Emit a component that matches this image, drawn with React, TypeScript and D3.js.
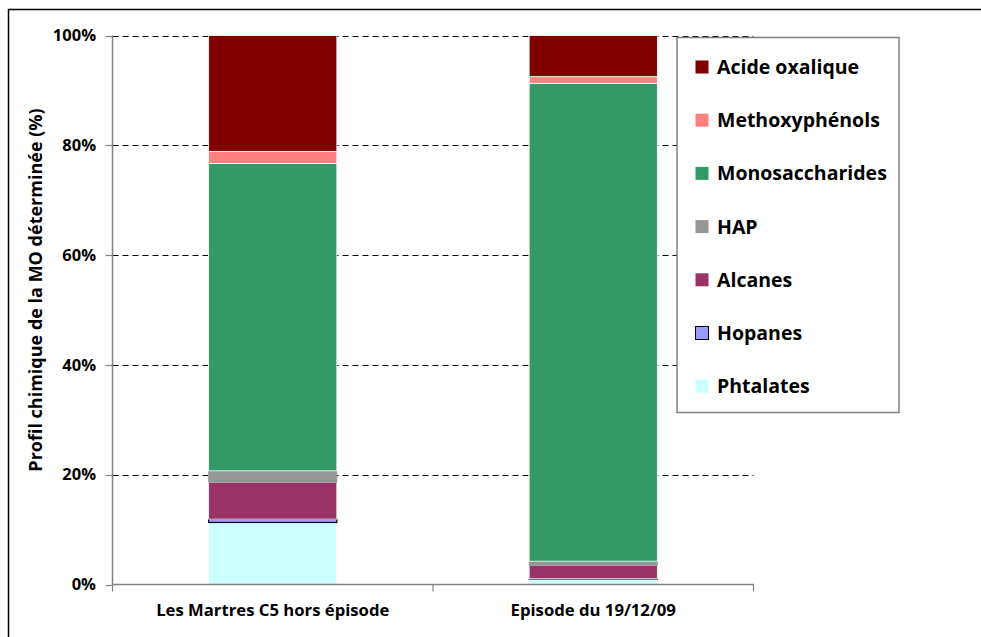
import React, { useEffect, useRef } from "react";
import * as d3 from "d3";

const categories = ["Les Martres C5 hors épisode", "Episode du 19/12/09"];
const seriesNames = ["Phtalates", "Hopanes", "Alcanes", "HAP", "Monosaccharides", "Methoxyphénols", "Acide oxalique"];
const phtalates = [11.3, 1.0];
const hopanes = [0.6, 0.05];
const alcanes = [6.7, 2.4];
const hap = [2.1, 0.8];
const monosaccharides = [56.0, 87.05];
const methoxyphenols = [2.2, 1.2];
const acideOxalique = [21.1, 7.5];
const seriesColors = ["#CCFFFF", "#9999FF", "#993366", "#969696", "#339966", "#FF8080", "#800000"];
const seriesStrokes = ["#ffffff", "#000000", "#ffffff", "#969696", "#ffffff", "#ffffff", "#ffffff"];
const yTicks = [0, 0.2, 0.4, 0.6, 0.8, 1.0];
const legendOrder = ["Acide oxalique", "Methoxyphénols", "Monosaccharides", "HAP", "Alcanes", "Hopanes", "Phtalates"];

const W = 981, H = 637;
const FONT = "'Open Sans', sans-serif";

export default function App() {
  const ref = useRef<SVGSVGElement>(null);
  useEffect(() => {
    const svg = d3.select(ref.current);
    svg.selectAll("*").remove();
    const x0 = 112.5, x1 = 753.5, y0 = 584.5, y1 = 35.5;

    const table = categories.map((c, i) => ({
      cat: c,
      Phtalates: phtalates[i],
      Hopanes: hopanes[i],
      Alcanes: alcanes[i],
      HAP: hap[i],
      Monosaccharides: monosaccharides[i],
      "Methoxyphénols": methoxyphenols[i],
      "Acide oxalique": acideOxalique[i],
    }));
    const stacked = d3.stack<any>().keys(seriesNames).offset(d3.stackOffsetExpand)(table);

    const x = d3.scaleBand().domain(categories).range([x0, x1]).paddingInner(0.6).paddingOuter(0.3);
    const y = d3.scaleLinear().domain([0, 1]).range([y0, y1]);

    // outer frame
    svg.append("rect").attr("x", 8.5).attr("y", 9.5).attr("width", 1000).attr("height", 700)
      .attr("fill", "#fff").attr("stroke", "#000").attr("stroke-width", 1.5);

    // gridlines
    svg.append("g").selectAll("line").data(yTicks.filter(t => t > 0)).join("line")
      .attr("x1", x0).attr("x2", x1)
      .attr("y1", d => Math.round(y(d)) + 0.5).attr("y2", d => Math.round(y(d)) + 0.5)
      .attr("stroke", "#000").attr("stroke-width", 1).attr("stroke-dasharray", "6,4");

    // bars
    const g = svg.append("g");
    stacked.forEach((s, si) => {
      g.append("g").selectAll("rect").data(s).join("rect")
        .attr("x", (d: any) => x(d.data.cat)!)
        .attr("width", x.bandwidth())
        .attr("y", (d: any) => y(d[1]))
        .attr("height", (d: any) => Math.max(0, y(d[0]) - y(d[1])))
        .attr("fill", seriesColors[si])
        .attr("stroke", seriesStrokes[si])
        .attr("stroke-width", si === 1 ? 1.2 : 0.8);
    });

    // y axis
    const ya = svg.append("g");
    ya.append("line").attr("x1", x0).attr("x2", x0).attr("y1", y1).attr("y2", y0)
      .attr("stroke", "#808080").attr("stroke-width", 1.5);
    ya.selectAll("line.t").data(yTicks).join("line").attr("class", "t")
      .attr("x1", x0 - 7).attr("x2", x0)
      .attr("y1", d => Math.round(y(d)) + 0.5).attr("y2", d => Math.round(y(d)) + 0.5)
      .attr("stroke", "#808080").attr("stroke-width", 1.2);
    ya.selectAll("text").data(yTicks).join("text")
      .attr("x", 96).attr("y", d => y(d)).attr("dy", "0.35em")
      .attr("text-anchor", "end").attr("font-family", FONT).attr("font-weight", "bold")
      .attr("font-size", 16.5).text(d => d3.format(".0%")(d));

    // x axis
    const xa = svg.append("g");
    xa.append("line").attr("x1", x0).attr("x2", x1).attr("y1", y0).attr("y2", y0)
      .attr("stroke", "#808080").attr("stroke-width", 1.5);
    const bounds = [x0, (x0 + x1) / 2, x1];
    xa.selectAll("line.t").data(bounds).join("line").attr("class", "t")
      .attr("x1", d => d).attr("x2", d => d).attr("y1", y0).attr("y2", y0 + 7)
      .attr("stroke", "#808080").attr("stroke-width", 1.2);
    xa.selectAll("text").data(categories).join("text")
      .attr("x", d => x(d)! + x.bandwidth() / 2).attr("y", 616)
      .attr("text-anchor", "middle").attr("font-family", FONT).attr("font-weight", "bold")
      .attr("font-size", 16.7).text(d => d);

    // y title
    svg.append("text").attr("transform", `translate(42,290) rotate(-90)`)
      .attr("text-anchor", "middle").attr("font-family", FONT).attr("font-weight", "bold")
      .attr("font-size", 18).text("Profil chimique de la MO déterminée (%)");

    // legend
    const lg = svg.append("g");
    lg.append("rect").attr("x", 677).attr("y", 37.5).attr("width", 222).attr("height", 375)
      .attr("fill", "#fff").attr("stroke", "#808080").attr("stroke-width", 1.5);
    legendOrder.forEach((name, i) => {
      const si = seriesNames.indexOf(name);
      const cy = 67 + i * 53.2;
      lg.append("rect").attr("x", 695.5).attr("y", cy - 6.5).attr("width", 13).attr("height", 13)
        .attr("fill", seriesColors[si]).attr("stroke", si === 1 ? "#000" : "none").attr("stroke-width", 1);
      lg.append("text").attr("x", 717).attr("y", cy).attr("dy", "0.36em")
        .attr("font-family", FONT).attr("font-weight", "bold").attr("font-size", 19.5).text(name);
    });
  }, []);
  return (
    <svg ref={ref} width={W} height={H} style={{ position: "absolute", left: 0, top: 0, background: "#fff" }} />
  );
}
